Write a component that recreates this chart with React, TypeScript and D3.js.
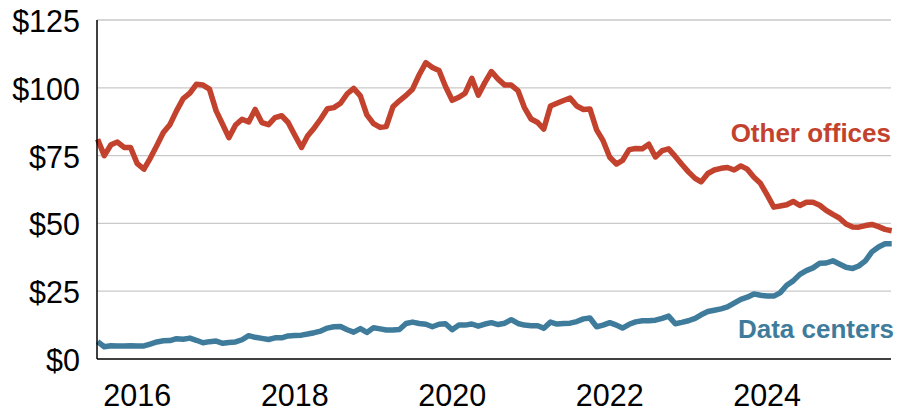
import React from "react";
import * as d3 from "d3";

const START_MONTH = new Date(2015, 6, 1); // Jul 2015
const END_MONTH = new Date(2025, 7, 1); // Aug 2025

const otherOffices = [
  81, 75, 79, 80, 78, 78, 72, 70, 74, 78.7, 83.5, 86.5, 91.5, 96, 98, 101.3, 101, 99.5, 91.5, 86.4,
  81.6, 86.3, 88.4, 87.4, 92, 87.2, 86.4, 89, 89.7, 87.2, 82.5, 78, 82.2, 85.2, 88.5, 92.3, 92.7, 94.3, 97.8, 99.8,
  97, 90, 86.8, 85.4, 85.7, 93, 95.2, 97.2, 99.5, 104.8, 109.3, 107.5, 106.4, 100.5, 95.4, 96.5, 98, 103.5, 97.3, 102,
  106, 103.2, 101, 101, 99, 92.7, 88.5, 87.2, 84.8, 93.3, 94.3, 95.3, 96.2, 93.3, 92, 92.2, 84.5, 80.5, 74.4, 71.9,
  73.2, 77.2, 77.6, 77.5, 79.2, 74.5, 76.8, 77.5, 74.7, 71.8, 69, 66.6, 65.3, 68.4, 69.7, 70.3, 70.6, 69.7, 71.2, 70,
  67, 64.8, 60.5, 56, 56.4, 56.9, 58.1, 56.6, 57.8, 57.8, 56.7, 54.8, 53.3, 52, 49.8, 48.7, 48.6, 49.2, 49.6, 48.8,
  47.8, 47.3,
];

const dataCenters = [
  6.4, 4.5, 4.9, 4.8, 4.8, 4.9, 4.8, 4.8, 5.5, 6.3, 6.7, 6.8, 7.5, 7.3, 7.7, 6.9, 6.0, 6.4, 6.6, 5.8,
  6.1, 6.3, 7.1, 8.6, 8.0, 7.6, 7.2, 7.8, 7.8, 8.5, 8.7, 8.8, 9.2, 9.7, 10.3, 11.4, 11.9, 12, 10.8, 9.9,
  11.2, 9.8, 11.5, 11.1, 10.7, 10.7, 10.9, 13.1, 13.6, 13.1, 12.8, 11.9, 12.8, 13, 10.8, 12.5, 12.5, 12.9, 12.1, 12.9,
  13.4, 12.7, 13.2, 14.5, 13.1, 12.5, 12.3, 12.3, 11.3, 13.6, 12.9, 13.1, 13.2, 13.8, 14.8, 15.1, 11.9, 12.5, 13.4, 12.5,
  11.4, 12.8, 13.7, 14.1, 14.1, 14.3, 15, 15.8, 13, 13.5, 14.1, 15, 16.3, 17.5, 18, 18.5, 19.2, 20.6, 22, 22.8,
  24, 23.5, 23.2, 23.2, 24.4, 27.2, 28.8, 31.2, 32.6, 33.6, 35.3, 35.4, 36.2, 35, 33.8, 33.4, 34.3, 36.2, 39.5, 41.3,
  42.5, 42.5,
];

const yTicks = [0, 25, 50, 75, 100, 125];
const xTickYears = [2016, 2018, 2020, 2022, 2024];
const seriesLabels = ["Other offices", "Data centers"];

const W = 902;
const H = 414;
const FONT = "'Liberation Sans', Arial, Helvetica, sans-serif";
const RED = "#c3422d";
const BLUE = "#3f7c9c";

export default function App() {
  const months = d3.timeMonth.range(START_MONTH, d3.timeMonth.offset(END_MONTH, 1));
  const left = 97;
  const right = 891;
  const top = 20;
  const bottom = 359;

  const x = d3
    .scaleTime()
    .domain([START_MONTH, END_MONTH])
    .range([left + 0.6, right + 0.7]);
  const y = d3.scaleLinear().domain([0, 125]).range([bottom, top]);

  const line = d3
    .line<number>()
    .x((_, i) => x(months[i]))
    .y((d) => y(d))
    .curve(d3.curveLinear);

  return (
    <svg
      width={W}
      height={H}
      style={{ position: "absolute", left: 0, top: 0, background: "#fff" }}
      fontFamily={FONT}
    >
      <rect x={0} y={0} width={W} height={H} fill="#fff" />
      {yTicks
        .filter((t) => t > 0)
        .map((t) => (
          <line key={t} x1={left} x2={right} y1={y(t)} y2={y(t)} stroke="#c9c9c9" strokeWidth={1.3} />
        ))}
      {yTicks.map((t) => (
        <text
          key={"yl" + t}
          x={80}
          y={y(t) + 1}
          textAnchor="end"
          dominantBaseline="central"
          fontSize={30.5}
          fill="#000"
        >
          {"$" + t}
        </text>
      ))}
      {xTickYears.map((yr) => (
        <text key={yr} x={x(new Date(yr, 0, 1))} y={405.5} textAnchor="middle" fontSize={30.5} fill="#000">
          {yr}
        </text>
      ))}
      <path d={line(otherOffices) || ""} fill="none" stroke={RED} strokeWidth={5.5} strokeLinejoin="round" />
      <path d={line(dataCenters) || ""} fill="none" stroke={BLUE} strokeWidth={5.5} strokeLinejoin="round" />
      <line x1={left} x2={left} y1={top} y2={bottom} stroke="#000" strokeWidth={1.5} />
      <line x1={left} x2={right} y1={bottom} y2={bottom} stroke="#000" strokeWidth={1.5} />
      <text x={891} y={133} textAnchor="end" dominantBaseline="central" fontSize={26} fontWeight="bold" fill={RED}>
        {seriesLabels[0]}
      </text>
      <text x={894} y={329} textAnchor="end" dominantBaseline="central" fontSize={26} fontWeight="bold" fill={BLUE}>
        {seriesLabels[1]}
      </text>
    </svg>
  );
}
